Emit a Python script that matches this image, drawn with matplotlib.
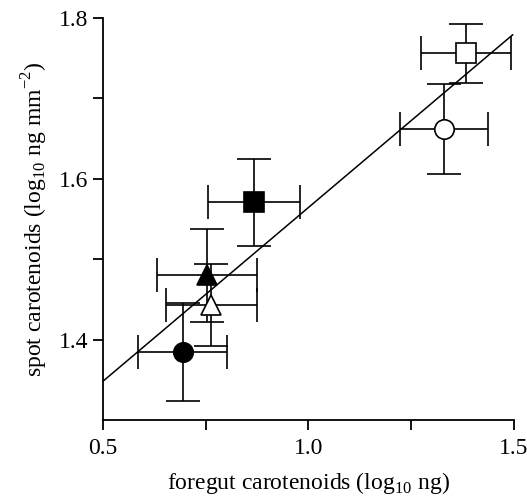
import matplotlib
matplotlib.use("Agg")
import matplotlib.pyplot as plt
import numpy as np

plt.rcParams['font.family'] = ['Liberation Serif', 'DejaVu Serif']
plt.rcParams['mathtext.fontset'] = 'custom'
plt.rcParams['mathtext.rm'] = 'Liberation Serif'

# group means and error bars
markers = ['o', '^', '^', 's', 's', 'o']
filled = [True, True, False, True, False, False]
foregut = [0.694, 0.753, 0.764, 0.868, 1.383, 1.330]
foregut_err = [0.108, 0.121, 0.110, 0.113, 0.110, 0.108]
spot = [1.385, 1.480, 1.443, 1.571, 1.756, 1.662]
spot_err = [0.061, 0.058, 0.051, 0.054, 0.037, 0.056]

# regression line
fit_x = [0.5, 1.497]
fit_y = [1.348, 1.779]

xticks = [0.5, 1.0, 1.5]
xticks_minor = [0.75, 1.25]
yticks = [1.4, 1.6, 1.8]
yticks_minor = [1.5, 1.7]

fig = plt.figure(figsize=(5.27, 4.98), dpi=100)
ax = fig.add_axes([0.195, 0.1566, 0.78, 0.8073])

ax.plot(fit_x, fit_y, color='black', lw=1.1, zorder=2)

for i in range(len(foregut)):
    face = 'black' if filled[i] else 'white'
    ax.errorbar(foregut[i], spot[i], xerr=foregut_err[i], yerr=spot_err[i],
                fmt=markers[i], ms=14, mfc=face, mec='black', mew=1.2,
                ecolor='black', elinewidth=1.2, capsize=12, capthick=1.2,
                zorder=3)

ax.set_xlim(0.5, 1.5)
ax.set_ylim(1.3, 1.8)
ax.set_xticks(xticks)
ax.set_xticks(xticks_minor, minor=True)
ax.set_yticks(yticks)
ax.set_yticks(yticks_minor, minor=True)
ax.set_xticklabels(['%.1f' % v for v in xticks])
ax.set_yticklabels(['%.1f' % v for v in yticks])

for s in ['top', 'right']:
    ax.spines[s].set_visible(False)
for s in ['left', 'bottom']:
    ax.spines[s].set_linewidth(1.3)
ax.tick_params(which='both', direction='out', length=7, width=1.3, labelsize=17)
ax.tick_params(axis='x', pad=6)

ax.set_xlabel('foregut carotenoids (log$_{10}$ ng)', fontsize=17, labelpad=8)
ax.set_ylabel('spot carotenoids (log$_{10}$ ng mm$^{-2}$)', fontsize=17, labelpad=6)

fig.savefig('out.png', dpi=100)
